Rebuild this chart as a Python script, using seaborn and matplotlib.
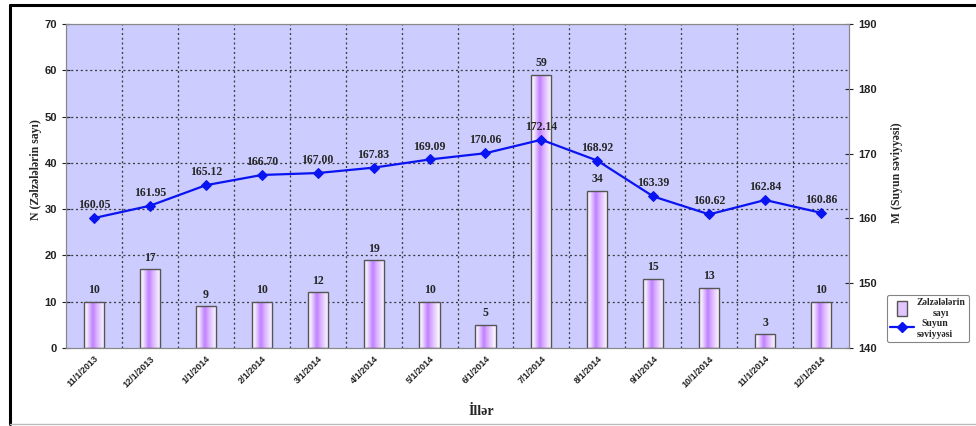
import numpy as np
import pandas as pd
import matplotlib
matplotlib.use("Agg")
import matplotlib.pyplot as plt
from matplotlib.colors import LinearSegmentedColormap
from matplotlib.lines import Line2D
from matplotlib.patches import Rectangle
import seaborn as sns

# Monthly data
months = ["11/1/2013", "12/1/2013", "1/1/2014", "2/1/2014", "3/1/2014", "4/1/2014",
          "5/1/2014", "6/1/2014", "7/1/2014", "8/1/2014", "9/1/2014", "10/1/2014",
          "11/1/2014", "12/1/2014"]
quake_counts = [10, 17, 9, 10, 12, 19, 10, 5, 59, 34, 15, 13, 3, 10]
water_level = [160.05, 161.95, 165.12, 166.70, 167.00, 167.83, 169.09, 170.06,
               172.14, 168.92, 163.39, 160.62, 162.84, 160.86]

sns.set_style("white")
plt.rcParams["font.family"] = ["Liberation Sans", "DejaVu Sans"]
SERIF = ["Liberation Serif", "DejaVu Serif"]

df = pd.DataFrame({"month": months, "count": quake_counts,
                   "level": water_level, "pos": np.arange(len(months))})

fig = plt.figure(figsize=(9.76, 4.26), dpi=100)
ax = fig.add_axes([66 / 976, 1 - 348 / 426, (849 - 66) / 976, (348 - 24) / 426])
ax.set_facecolor("#CCCCFF")

sns.barplot(data=df, x="month", y="count", ax=ax, width=0.36,
            color="white", edgecolor="#555555", linewidth=1.0, zorder=2)

# Gradient fill inside every bar
grad_cmap = LinearSegmentedColormap.from_list(
    "bar", [(0.0, "#FFFFFF"), (0.15, "#F0E4FF"), (0.42, "#C080FF"),
            (0.62, "#DCB4FF"), (1.0, "#FFFFFF")])
grad = np.linspace(0, 1, 64).reshape(1, -1)
for p in ax.patches:
    x0, y0 = p.get_x(), p.get_y()
    w, h = p.get_width(), p.get_height()
    im = ax.imshow(grad, cmap=grad_cmap, aspect="auto",
                   extent=(x0, x0 + w, y0, y0 + h), zorder=2.1, interpolation="bilinear")
    im.set_clip_path(p)
    p.set_facecolor("none")
    p.set_zorder(2.2)

ax.set_xlim(-0.5, len(months) - 0.5)
ax.set_ylim(0, 70)
ax.set_yticks(range(0, 71, 10))
ax.set_xticks(np.arange(len(months)))
ax.set_xticklabels(months, rotation=45, ha="right", rotation_mode="anchor",
                   fontsize=6.5, fontweight="bold")

# Dotted grid: horizontal from the count axis, vertical between months
dots = (0, (1.6, 2.2))
for yv in range(10, 70, 10):
    ax.axhline(yv, color="#3A3A3A", linestyle=dots, linewidth=0.9, zorder=1)
for xv in np.arange(len(months) - 1) + 0.5:
    ax.axvline(xv, color="#3A3A3A", linestyle=dots, linewidth=0.9, zorder=1)

for i, v in enumerate(quake_counts):
    ax.annotate(str(v), (i, v), xytext=(0, 4), textcoords="offset points",
                ha="center", va="bottom", fontsize=8.5, fontweight="bold", family=SERIF)

ax.tick_params(axis="y", direction="inout", length=6, labelsize=8, width=0.8, colors="#222222")
ax.tick_params(axis="x", direction="inout", length=5, width=0.8, colors="#222222", pad=2)
for lab in ax.get_yticklabels():
    lab.set_fontweight("bold")
ax.set_xlabel("İllər", fontsize=10, fontweight="bold", family=SERIF)
ax.xaxis.set_label_coords(0.53, -0.175)
ax.set_ylabel("N (Zəlzələlərin sayı)", fontsize=8.5, fontweight="bold", family=SERIF,
              va="center")
ax.yaxis.set_label_coords(-0.038, 0.55)

# Water level on the secondary axis
ax2 = ax.twinx()
sns.lineplot(data=df, x="pos", y="level", ax=ax2, color="#0A14F0", linewidth=1.6,
             marker="D", markersize=5, markeredgecolor="#0A14F0", zorder=5)
ax2.set_ylim(140, 190)
ax2.set_yticks(range(140, 191, 10))
ax2.set_xlim(-0.5, len(months) - 0.5)
ax2.tick_params(axis="y", direction="inout", length=6, labelsize=8, width=0.8, colors="#222222")
for lab in ax2.get_yticklabels():
    lab.set_fontweight("bold")
ax2.set_ylabel("M (Suyun səviyyəsi)", fontsize=8.5, fontweight="bold", family=SERIF,
               rotation=90, va="center")
ax2.yaxis.set_label_coords(1.061, 0.54)
ax2.set_xlabel("")

for i, v in enumerate(water_level):
    ax2.annotate(f"{v:.2f}", (i, v), xytext=(0, 5), textcoords="offset points",
                 ha="center", va="bottom", fontsize=8.5, fontweight="bold", family=SERIF)

for a in (ax, ax2):
    for s in a.spines.values():
        s.set_color("#888888")
        s.set_linewidth(0.8)

# Legend
handles = [Rectangle((0, 0), 1, 1, facecolor="#E2C6FF", edgecolor="#555555"),
           Line2D([], [], color="#0A14F0", marker="D", markersize=5, linewidth=1.6)]
leg = fig.legend(handles, ["Zəlzələlərin\nsayı", "Suyun\nsəviyyəsi"],
                 loc="lower left", bbox_to_anchor=(887 / 976, 1 - 342 / 426),
                 prop={"family": SERIF, "weight": "bold", "size": 7},
                 frameon=True, fancybox=True, edgecolor="#666666",
                 handlelength=2.4, handleheight=2.0, handletextpad=0.3, borderpad=0.35,
                 labelspacing=0.15, borderaxespad=0)
for t in leg.get_texts():
    t.set_multialignment("center")
leg.get_frame().set_linewidth(0.8)
# Narrow, tall bar swatch like the bar marks themselves
leg_patch = leg.get_patches()[0]
bw = leg_patch.get_width()
leg_patch.set_x(leg_patch.get_x() + bw * 0.3)
leg_patch.set_width(bw * 0.4)

# Outer frame
fig.add_artist(Line2D([10 / 976, 10 / 976], [1 - 5 / 426, 1 - 424 / 426],
                      transform=fig.transFigure, color="black", linewidth=2.2))
fig.add_artist(Line2D([10 / 976, 1.0], [1 - 5 / 426, 1 - 5 / 426],
                      transform=fig.transFigure, color="black", linewidth=2.2))
fig.add_artist(Line2D([10 / 976, 1.0], [1 - 424 / 426, 1 - 424 / 426],
                      transform=fig.transFigure, color="#BBBBBB", linewidth=1.0))

fig.savefig("out.png", dpi=100)
